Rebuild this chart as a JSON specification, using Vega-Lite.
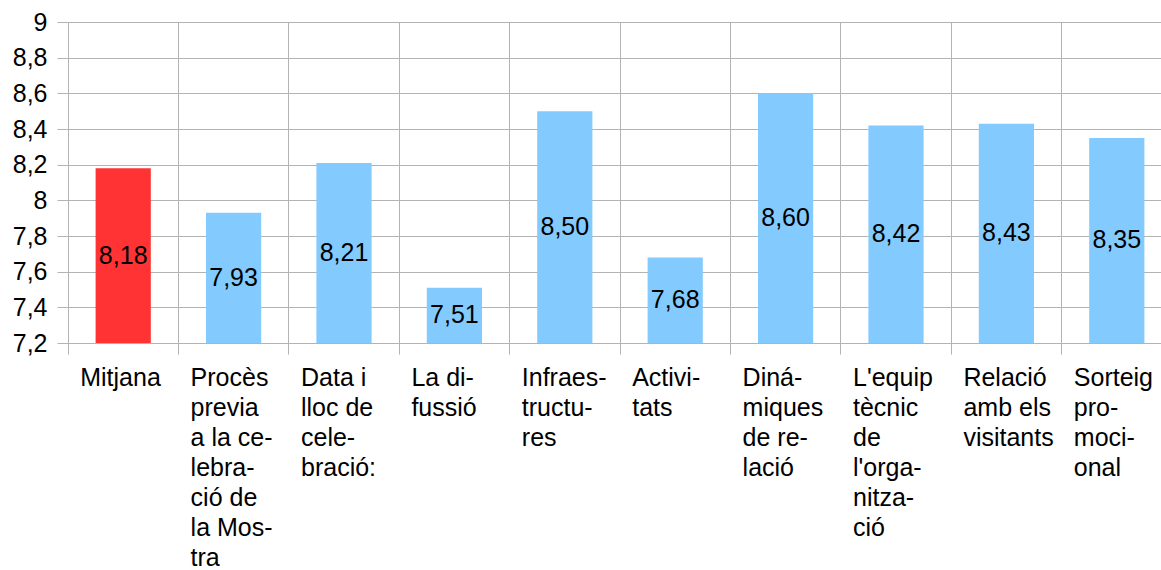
{
  "$schema": "https://vega.github.io/schema/vega-lite/v6.json",
  "autosize": "none",
  "padding": {"left": 68, "top": 22, "right": 0, "bottom": 227},
  "width": 1093,
  "height": 321,
  "config": {
    "view": {"stroke": null},
    "font": "Liberation Sans",
    "locale": {"number": {"decimal": ",", "thousands": ".", "grouping": [3], "currency": ["", " €"]}}
  },
  "data": {
    "values": [
      {"cat": "Mitjana", "value": 8.18},
      {"cat": "Procès|previa|a la ce-|lebra-|ció de|la Mos-|tra", "value": 7.93},
      {"cat": "Data i|lloc de|cele-|bració:", "value": 8.21},
      {"cat": "La di-|fussió", "value": 7.51},
      {"cat": "Infraes-|tructu-|res", "value": 8.50},
      {"cat": "Activi-|tats", "value": 7.68},
      {"cat": "Diná-|miques|de re-|lació", "value": 8.60},
      {"cat": "L'equip|tècnic|de|l'orga-|nitza-|ció", "value": 8.42},
      {"cat": "Relació|amb els|visitants", "value": 8.43},
      {"cat": "Sorteig|pro-|moci-|onal", "value": 8.35}
    ]
  },
  "layer": [
    {
      "mark": {"type": "bar", "width": {"band": 0.5}},
      "encoding": {
        "x": {
          "field": "cat", "type": "nominal", "sort": null,
          "scale": {"range": [0, 1104], "paddingInner": 0, "paddingOuter": 0},
          "axis": {
            "title": null,
            "bandPosition": 0,
            "grid": true,
            "gridColor": "#b3b3b3",
            "gridWidth": 1,
            "ticks": true,
            "tickSize": 11,
            "tickColor": "#b3b3b3",
            "domainColor": "#b3b3b3",
            "labelAngle": 0,
            "labelAlign": "left",
            "labelBaseline": "top",
            "labelOffset": -43,
            "labelPadding": 11,
            "labelLineHeight": 30,
            "labelFont": "Liberation Sans",
            "labelFontSize": 25,
            "labelColor": "#000000",
            "labelLimit": 0,
            "labelOverlap": false,
            "labelExpr": "split(datum.value, '|')"
          }
        },
        "y": {
          "field": "value", "type": "quantitative",
          "scale": {"domain": [7.2, 9], "zero": false, "nice": false},
          "axis": {
            "title": null,
            "values": [7.2, 7.4, 7.6, 7.8, 8, 8.2, 8.4, 8.6, 8.8, 9],
            "format": ".1~f",
            "grid": true,
            "gridColor": "#b3b3b3",
            "tickSize": 11,
            "tickColor": "#b3b3b3",
            "domainColor": "#b3b3b3",
            "labelFont": "Liberation Sans",
            "labelFontSize": 25,
            "labelColor": "#000000",
            "labelPadding": 10,
            "labelBaseline": "middle"
          }
        },
        "y2": {"datum": 7.2},
        "color": {
          "condition": {"test": "datum.cat === 'Mitjana'", "value": "#ff3333"},
          "value": "#83caff"
        }
      }
    },
    {
      "mark": {"type": "text", "font": "Liberation Sans", "fontSize": 25, "color": "#000000", "baseline": "middle", "align": "center"},
      "encoding": {
        "x": {"field": "cat", "type": "nominal", "sort": null},
        "y": {
          "field": "value", "type": "quantitative",
          "scale": {"domain": [7.2, 10.8], "zero": false, "nice": false},
          "axis": null
        },
        "text": {"field": "value", "type": "quantitative", "format": ".2f"}
      }
    }
  ],
  "resolve": {"scale": {"y": "independent"}}
}
